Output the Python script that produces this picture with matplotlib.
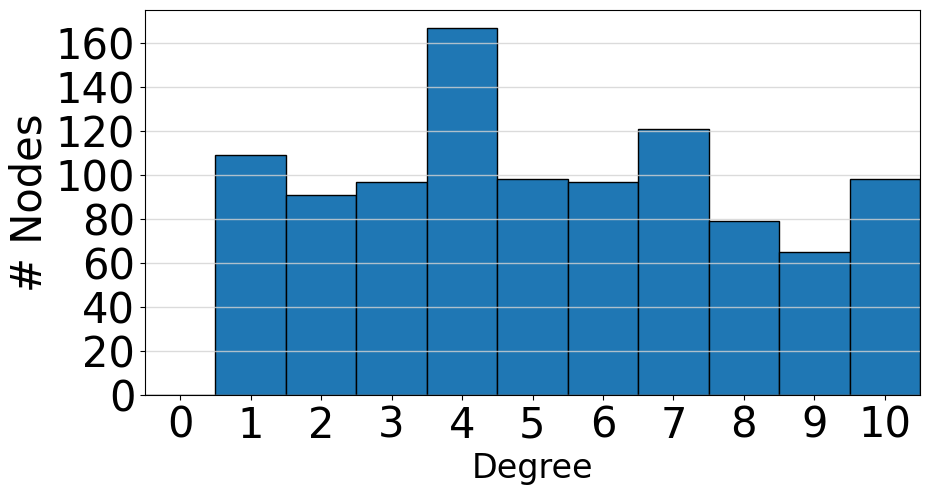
import matplotlib
matplotlib.use("Agg")
import matplotlib.pyplot as plt
import numpy as np

degrees = [0, 1, 2, 3, 4, 5, 6, 7, 8, 9, 10]
node_counts = [0, 109, 91, 97, 167, 98, 97, 121, 79, 65, 98]

fig = plt.figure(figsize=(9.29, 4.93), dpi=100)
ax = fig.add_axes([145 / 929, 1 - 395 / 493, 775 / 929, 385 / 493])

ax.bar(degrees, node_counts, width=1.0, color="#1f77b4",
       edgecolor="black", linewidth=1.0)
ax.set_xlim(-0.5, 10.5)
ax.set_ylim(0, 175)
ax.set_xticks(degrees)
ax.set_yticks(np.arange(0, 161, 20))
ax.tick_params(axis="both", labelsize=30)
ax.set_xlabel("Degree", fontsize=24)
ax.set_ylabel("# Nodes", fontsize=30)
ax.grid(axis="y", color="lightgray", alpha=0.8, linewidth=1.0)

fig.savefig("out.png", dpi=100)
